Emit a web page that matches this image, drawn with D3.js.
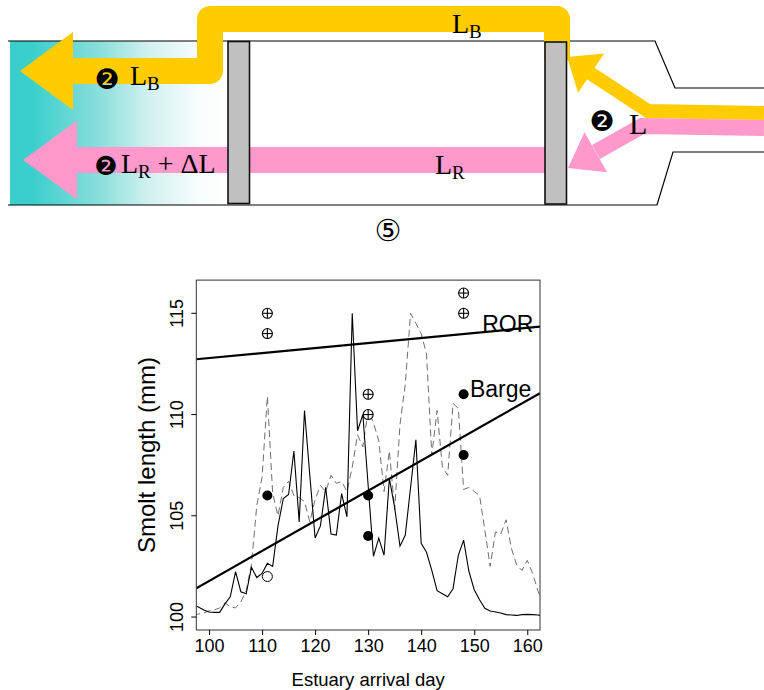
<!DOCTYPE html>
<html><head><meta charset="utf-8">
<script src="https://cdn.jsdelivr.net/npm/d3@7"></script>
<style>body{margin:0;background:#fff}</style>
</head><body><svg id="c" width="764" height="690" xmlns="http://www.w3.org/2000/svg"></svg>
<script>
// ---------------- DATA ----------------
const days = [97,98,99,100,101,102,103,104,105,106,107,108,109,110,111,112,113,114,115,116,117,118,119,120,121,122,123,124,125,126,127,128,129,130,131,132,133,134,135,136,137,138,139,140,141,142,143,144,145,146,147,148,149,150,151,152,153,154,155,156,157,158,159,160,161,162,163];
// solid line
const rorDaily = [100.6,100.5,100.35,100.25,100.23,100.23,100.65,101.0,102.24,101.25,101.15,102.45,101.95,102.15,102.65,102.5,104.5,105.85,106.05,108.2,104.7,110.2,107.0,103.9,104.5,106.4,104.1,104.05,106.1,104.95,115.0,109.2,110.0,106.5,103.0,103.9,103.06,106.85,105.4,103.5,104.05,106.4,108.75,103.64,103.2,102.3,101.3,101.15,101.0,101.4,103.05,103.8,102.25,101.35,100.85,100.43,100.3,100.25,100.2,100.12,100.1,100.08,100.12,100.13,100.12,100.1,100.05];
// dashed line
const bargeDaily = [100.1,100.15,100.2,100.3,100.35,100.45,100.7,100.5,100.45,100.75,101.3,102.6,105.5,106.9,110.9,106.1,105.0,106.4,106.7,106.0,105.9,105.7,104.7,105.8,106.5,106.2,107.0,106.6,106.7,106.2,107.4,109.0,108.4,110.2,109.6,108.7,106.2,108.2,105.3,109.5,111.5,115.0,114.5,114.0,113.0,108.0,110.2,107.4,107.0,110.55,110.3,106.3,106.4,106.2,106.0,104.3,102.5,104.2,104.1,104.8,103.4,102.57,102.3,102.8,102.16,101.3,100.6];
// ROR samples (circle with cross)
const rorDays = [111,111,130,130,148,148];
const rorLen  = [115,114,111,110,116,115];
// Barge samples (filled)
const bargeDays = [111,130,130,148,148];
const bargeLen  = [106,106,104,111,108];
// open circle
const openDays = [111];
const openLen  = [102];
// fitted lines: values at day 100 and day 160
const fitDays = [100,160];
const rorFit = [112.79,114.28];
const bargeFit = [101.78,110.70];
const xTicks = [100,110,120,130,140,150,160];
const yTicks = [100,105,110,115];

// ---------------- SETUP ----------------
const svg = d3.select("#c");
const serif = "'Liberation Serif','Times New Roman',serif";
const sans = "'Liberation Sans',Arial,Helvetica,sans-serif";
const defs = svg.append("defs");

// ---------------- DIAGRAM ----------------
const g0 = svg.append("g");
const grad = defs.append("linearGradient").attr("id","teal").attr("x1","0").attr("x2","1").attr("y1","0").attr("y2","0");
[[0,"#3acfcc"],[0.1,"#3acfcc"],[0.41,"#8adedb"],[0.64,"#d2f1f0"],[0.87,"#f8fdfd"],[1,"#ffffff"]]
  .forEach(([o,c])=>grad.append("stop").attr("offset",o).attr("stop-color",c));
g0.append("rect").attr("x",10).attr("y",41).attr("width",218).attr("height",164).attr("fill","url(#teal)");

const line = d3.line();
g0.append("path").attr("d",line([[8,41],[655,41],[675,88],[764,88]])).attr("fill","none").attr("stroke","#000").attr("stroke-width",1.2);
g0.append("path").attr("d",line([[8,205],[657,205],[673,152],[764,152]])).attr("fill","none").attr("stroke","#000").attr("stroke-width",1.2);

function arrowHead(tail, tip, headLen, headW){
  const dx=tip[0]-tail[0], dy=tip[1]-tail[1], L=Math.hypot(dx,dy);
  const ux=dx/L, uy=dy/L, nx=-uy, ny=ux;
  const bx=tip[0]-ux*headLen, by=tip[1]-uy*headLen;
  return [[bx+nx*headW/2,by+ny*headW/2],tip,[bx-nx*headW/2,by-ny*headW/2]];
}
const YEL="#ffcc00", PINK="#ff99cc";
// barge route
g0.append("path").attr("d",line([[70,71],[210,71],[210,19],[557,19],[557,60]]))
  .attr("fill","none").attr("stroke",YEL).attr("stroke-width",26).attr("stroke-linejoin","round");
g0.append("path").attr("d",line(arrowHead([75,71],[20,71],53,78))+"Z").attr("fill",YEL);
// in-river route
g0.append("path").attr("d",line([[72,160],[545,160]])).attr("fill","none").attr("stroke",PINK).attr("stroke-width",26);
g0.append("path").attr("d",line(arrowHead([80,160],[23,160],54,79))+"Z").attr("fill",PINK);
// inflow on right
g0.append("path").attr("d",line([[764,113],[648,111],[590,73]])).attr("fill","none").attr("stroke",YEL).attr("stroke-width",14).attr("stroke-linejoin","miter");
g0.append("path").attr("d",line(arrowHead([648,111],[567,57],29,47))+"Z").attr("fill",YEL);
g0.append("path").attr("d",line([[764,128],[642,126],[596,152]])).attr("fill","none").attr("stroke",PINK).attr("stroke-width",16).attr("stroke-linejoin","miter");
g0.append("path").attr("d",line(arrowHead([642,126],[568,168],32,46))+"Z").attr("fill",PINK);
// dams
[[228,41.5],[545,42]].forEach(([x,y])=>{
  g0.append("rect").attr("x",x).attr("y",y).attr("width",21.5).attr("height",162).attr("fill","#c0c0c0").attr("stroke","#111").attr("stroke-width",1.6);
});
// labels
function circ2(x,y,size){
  g0.append("text").attr("x",x).attr("y",y).attr("text-anchor","middle").attr("dominant-baseline","central")
    .attr("font-family","'DejaVu Sans'").attr("font-size",size||28).text("❷");
}
function Lsub(x,y,sub,size,rest){
  const t = g0.append("text").attr("x",x).attr("y",y).attr("font-family",serif).attr("font-size",size).attr("fill","#000");
  t.append("tspan").text("L");
  if(sub) t.append("tspan").attr("font-size",size*0.68).attr("dy",size*0.17).text(sub);
  if(rest) t.append("tspan").attr("dy",-size*0.17).text(rest);
}
circ2(107,79); Lsub(130,85,"B",28);
Lsub(452,33,"B",28);
circ2(106,166,26); Lsub(121,173,"R",28," + \u0394L");
Lsub(435,174,"R",28);
circ2(602,121); Lsub(629,134,null,30);
g0.append("text").attr("x",388).attr("y",230).attr("text-anchor","middle").attr("dominant-baseline","central")
  .attr("font-family","'DejaVu Sans','Noto Sans CJK SC'").attr("font-size",30).text("⑤");

// ---------------- CHART ----------------
const x = d3.scaleLinear().domain([97.6,162.4]).range([196.3,540]);
const y = d3.scaleLinear().domain([99.36,116.64]).range([630,280.1]);
const gc = svg.append("g");
defs.append("clipPath").attr("id","plotclip").append("rect")
  .attr("x",x.range()[0]).attr("y",y.range()[1]).attr("width",x.range()[1]-x.range()[0]).attr("height",y.range()[0]-y.range()[1]);
const plot = gc.append("g").attr("clip-path","url(#plotclip)");
const ln = d3.line().x(d=>x(d[0])).y(d=>y(d[1]));
plot.append("path").attr("d",ln(days.map((d,i)=>[d,bargeDaily[i]]))).attr("fill","none")
  .attr("stroke","#6e6e6e").attr("stroke-width",1).attr("stroke-dasharray","7,4");
plot.append("path").attr("d",ln(days.map((d,i)=>[d,rorDaily[i]]))).attr("fill","none")
  .attr("stroke","#000").attr("stroke-width",1.1);
function fitLine(vals){
  const s=(vals[1]-vals[0])/(fitDays[1]-fitDays[0]);
  const d0=x.domain()[0], d1=x.domain()[1];
  return [[d0,vals[0]+s*(d0-fitDays[0])],[d1,vals[0]+s*(d1-fitDays[0])]];
}
plot.append("path").attr("d",ln(fitLine(rorFit))).attr("stroke","#000").attr("stroke-width",2.2).attr("fill","none");
plot.append("path").attr("d",ln(fitLine(bargeFit))).attr("stroke","#000").attr("stroke-width",2.2).attr("fill","none");
// points
rorDays.forEach((d,i)=>{
  const cx=x(d), cy=y(rorLen[i]), r=5;
  const g=gc.append("g").attr("stroke","#000").attr("stroke-width",1.1).attr("fill","none");
  g.append("circle").attr("cx",cx).attr("cy",cy).attr("r",r).attr("fill","#fff");
  g.append("line").attr("x1",cx-r).attr("x2",cx+r).attr("y1",cy).attr("y2",cy);
  g.append("line").attr("x1",cx).attr("x2",cx).attr("y1",cy-r).attr("y2",cy+r);
});
bargeDays.forEach((d,i)=>gc.append("circle").attr("cx",x(d)).attr("cy",y(bargeLen[i])).attr("r",5).attr("fill","#000"));
openDays.forEach((d,i)=>gc.append("circle").attr("cx",x(d)).attr("cy",y(openLen[i])).attr("r",5).attr("fill","none").attr("stroke","#000").attr("stroke-width",1));
// box
gc.append("rect").attr("x",x.range()[0]).attr("y",y.range()[1]).attr("width",x.range()[1]-x.range()[0]).attr("height",y.range()[0]-y.range()[1])
  .attr("fill","none").attr("stroke","#333").attr("stroke-width",1);
// axes
const xa = gc.append("g").attr("transform",`translate(0,${y.range()[0]})`)
  .call(d3.axisBottom(x).tickValues(xTicks).tickSize(5).tickPadding(4));
xa.select(".domain").remove();
xa.selectAll("text").attr("font-family",sans).attr("font-size",18).attr("fill","#000");
const ya = gc.append("g").attr("transform",`translate(${x.range()[0]},0)`)
  .call(d3.axisLeft(y).tickValues(yTicks).tickSize(5).tickPadding(4));
ya.select(".domain").remove();
ya.selectAll("text").attr("font-family",sans).attr("font-size",18).attr("fill","#000")
  .attr("text-anchor","middle").attr("transform",function(d){return `translate(${-13},${y(d)}) rotate(-90)`;})
  .attr("x",0).attr("y",0).attr("dy","0").attr("dominant-baseline","auto");
ya.selectAll(".tick").attr("transform",null);
ya.selectAll(".tick line").attr("y1",d=>y(d)).attr("y2",d=>y(d));
// titles
gc.append("text").attr("x",(x.range()[0]+x.range()[1])/2+0).attr("y",686).attr("text-anchor","middle")
  .attr("font-family",sans).attr("font-size",18.5).text("Estuary arrival day");
gc.append("text").attr("transform",`translate(155,${(y.range()[0]+y.range()[1])/2}) rotate(-90)`).attr("text-anchor","middle")
  .attr("font-family",sans).attr("font-size",24).text("Smolt length (mm)");
// line labels
gc.append("text").attr("x",x(151.5)).attr("y",332).attr("font-family",sans).attr("font-size",23).text("ROR");
gc.append("text").attr("x",x(149.2)).attr("y",397).attr("font-family",sans).attr("font-size",23).text("Barge");
</script></body></html>
